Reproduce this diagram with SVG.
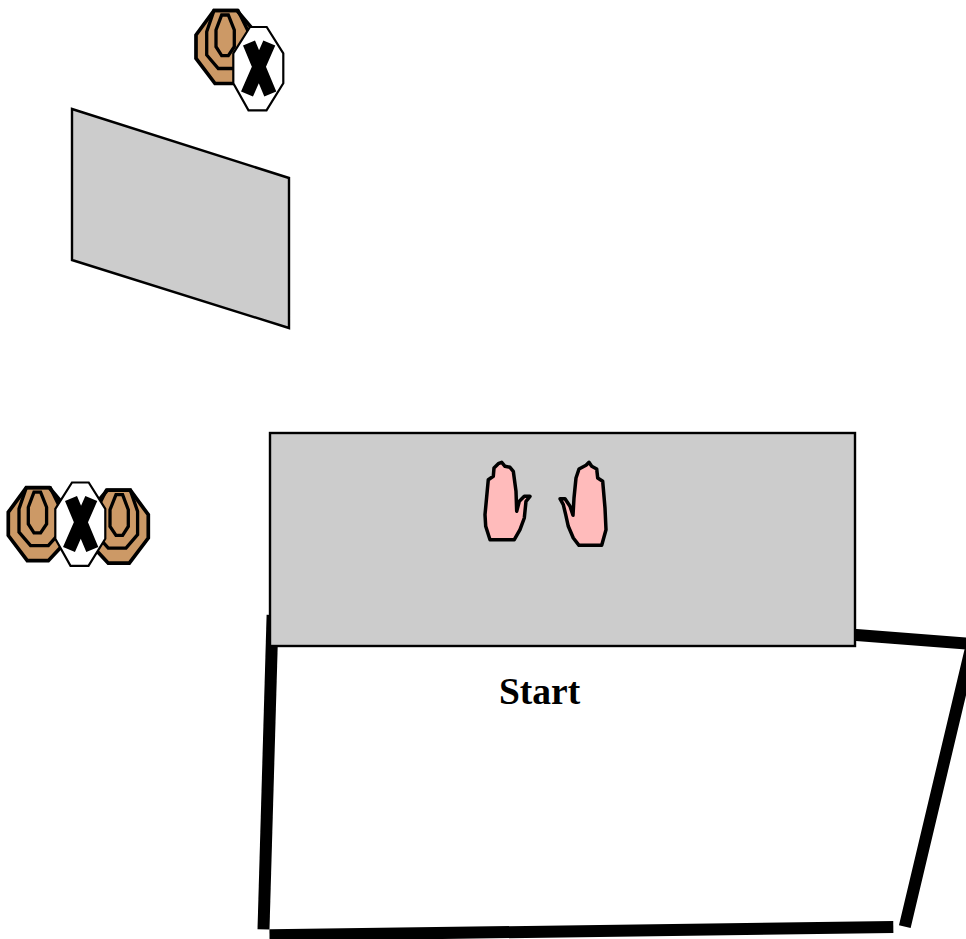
<svg xmlns="http://www.w3.org/2000/svg" xmlns:xlink="http://www.w3.org/1999/xlink" width="966" height="939" viewBox="0 0 966 939">
<style>
.panel{fill:#cccccc;stroke:#000;stroke-width:2.4}
.wall{fill:none;stroke:#000;stroke-width:12;stroke-linejoin:miter}
.hand{fill:#ffbbbb;stroke:#000;stroke-width:3.5;stroke-linejoin:round}
.tan{fill:#cc9966;stroke:#000;stroke-width:3.7}
.ring{fill:none;stroke:#000;stroke-width:3.3}
.nt{fill:#fff;stroke:#000;stroke-width:2.2}
.x{stroke:#000;stroke-width:13;fill:none}
.label{font-family:"Liberation Serif","Times New Roman",serif;font-weight:bold;font-size:37.5px}
</style>
<defs>
<g id="shoot">
<polygon class="tan" points="214,10.5 237,10.5 256,33 256,62 236,83.5 215,83.5 196,58.3 196,35"/>
<polygon class="ring" points="214,10.5 238,10.5 248,31 248,55 236,68.5 218.3,68.5 206.7,55 206.7,31.7"/>
<polygon class="ring" points="221.7,15 228.3,15 234.3,30 234.3,46.7 228.3,55.7 221.7,55.7 216,46.7 216,30"/>
</g>
<g id="noshoot">
<polygon class="nt" points="250,27 266.7,27 283.3,53.3 283.3,83.3 266.5,110.3 248.5,110.3 233.3,83.3 233.3,53.3"/>
<path class="x" d="M249,43 L270.3,94 M269.3,43 L247,94"/>
</g>
</defs>
<g id="connectors">
<path class="wall" d="M272.6,615 L263.5,929.3"/>
<path class="wall" d="M269.5,935.3 L893.3,927"/>
<path class="wall" d="M904.8,926.7 L972,644 L850,634.5"/>
</g>
<g id="panel-upper"><polygon class="panel" points="72,109 289,178 289,328 72,260"/></g>
<g id="panel-table"><rect class="panel" x="270" y="433" width="585" height="213"/></g>
<g id="targets-top">
<use xlink:href="#shoot" href="#shoot"/>
<use xlink:href="#noshoot" href="#noshoot"/>
</g>
<g id="targets-left">
<use xlink:href="#shoot" href="#shoot" transform="translate(-187.7,477.2)"/>
<use xlink:href="#shoot" href="#shoot" transform="translate(344.3,479.7) scale(-1,1)"/>
<use xlink:href="#noshoot" href="#noshoot" transform="translate(-178,455.5)"/>
</g>
<g id="hand-left"><path class="hand" d="M490,539.7 L514.3,539.7 L520,529.7 L524.3,518 L526,501.3 L530,496.3 L524.3,496.3 L519.3,501.3 L516.7,511.3 L516,491.3 L513.3,471.3 L510,467.3 L505,466.3 L501.7,462.3 L498.3,463.7 L494,468 L493.3,476.3 L488.3,479.7 L485,514.7 L485.7,526.3 Z"/></g>
<g id="hand-right"><path class="hand" d="M579,545.3 L601.7,545.3 L606,529.7 L605,508 L602.7,481.3 L597.7,478 L596.7,469 L591.7,466.3 L589,462.3 L586,465.3 L579,469 L576,478 L574,498 L573,515.3 L570,506.3 L565,498.7 L560,498.7 L563.3,504.7 L565.7,514.7 L568.3,526.3 L573.3,538 Z"/></g>
<g id="label-start"><text class="label" x="499" y="704">Start</text></g>
</svg>
